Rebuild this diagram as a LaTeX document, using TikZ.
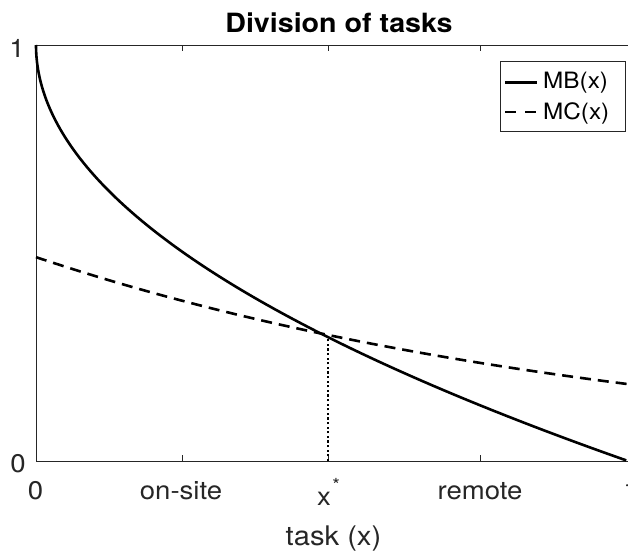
\documentclass[tikz,border=0pt]{standalone}
\usepackage{fontspec}
\setmainfont{TeX Gyre Heros}[FakeStretch=1.08]
\definecolor{axisgray}{gray}{0.15}
\tikzset{
  axisline/.style={draw=axisgray, line width=0.9pt},
  ticklab/.style={text=axisgray, font=\fontsize{25.5}{28}\selectfont, inner sep=0pt, anchor=base},
  curve/.style={line width=2.6pt, black, line join=round},
  mcdash/.style={curve, dash pattern=on 11pt off 7pt},
  legdash/.style={curve, dash pattern=on 11pt off 9pt},
  dropline/.style={line width=2.6pt, black, dash pattern=on 2.2pt off 2.4pt},
  legtext/.style={text=black, font=\fontsize{22.5}{25}\selectfont, inner sep=0pt, anchor=base west},
}
\begin{document}
\begin{tikzpicture}[x=1pt, y=-1pt]
  \useasboundingbox (0,0) rectangle (628,552);
  \clip (0,0) rectangle (628,552);

  % axes box (left, bottom, top)
  \coordinate (o) at (36,461);
  \coordinate (tl) at (36,45);
  \coordinate (br) at (628,461);
  \coordinate (tr) at (628,45);
  \draw[axisline] (tl) -- (o) -- (br);
  \draw[axisline] (tl) -- (tr);

  % ticks (inward, bottom and top)
  \foreach \px in {182,328,480} {
    \draw[axisline] (\px,461) -- (\px,455);
    \draw[axisline] (\px,45) -- (\px,51);
  }

  % marginal cost MC(x) = 0.49 e^{-0.975x}
  \draw[mcdash] plot[domain=0:1, samples=80, variable=\t]
    ({36+592*\t},{461-416*0.49*exp(-0.975*\t)});
  % marginal benefit MB(x) = 1 - sqrt(x), parametrised by s = sqrt(x)
  \draw[curve] plot[domain=0:1, samples=100, variable=\s]
    ({36+592*\s*\s},{461-416*(1-\s)});

  % optimal split x*
  \coordinate (xsBase) at (328,461);
  \coordinate (xsTop) at (328,337.1);
  \draw[dropline] (xsBase) -- (xsTop);

  % tick labels
  \node[ticklab] (lx0) at (35.6,499) {0};
  \node[ticklab] (lon) at (181,499) {on-site};
  \node[ticklab] (lxs) at (324,505) {x\rlap{\kern1.5pt\raisebox{14pt}{\fontsize{18}{18}\selectfont *}}};
  \node[ticklab] (lrem) at (480,499) {remote};
  \node[ticklab] (lx1) at (631,499) {1};
  \node[ticklab, anchor=base east] (ly1) at (25,57) {1};
  \node[ticklab, anchor=base east] (ly0) at (26,472) {0};

  % axis label and title
  \node[ticklab, font=\fontsize{27}{30}\selectfont] (xlab) at (333.5,545) {task (x)};
  \node[inner sep=0pt, anchor=base, text=black, font=\fontsize{26.5}{30}\bfseries\selectfont] (title) at (339,32) {Division of tasks};

  % legend
  \node[draw=axisgray, line width=0.9pt, fill=white, minimum width=125pt, minimum height=70pt, inner sep=0pt] (legend) at (562.5,96) {};
  \coordinate (mbA) at (505,82.3);
  \coordinate (mbB) at (537,82.3);
  \coordinate (mcA) at (505,112);
  \coordinate (mcB) at (537,112);
  \draw[curve] (mbA) -- (mbB);
  \draw[legdash] (mcA) -- (mcB);
  \node[legtext] (mbtext) at (543,88.5) {MB(x)};
  \node[legtext] (mctext) at (543,119) {MC(x)};
\end{tikzpicture}
\end{document}
